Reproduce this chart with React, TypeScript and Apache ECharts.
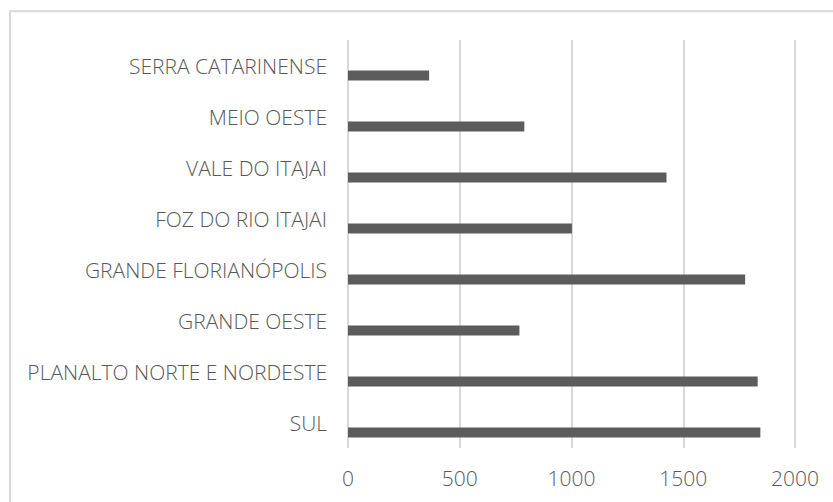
import React, { useEffect, useRef } from "react";
import * as echarts from "echarts";

const categories = [
  "SUL",
  "PLANALTO NORTE E NORDESTE",
  "GRANDE OESTE",
  "GRANDE FLORIANÓPOLIS",
  "FOZ DO RIO ITAJAI",
  "VALE DO ITAJAI",
  "MEIO OESTE",
  "SERRA CATARINENSE",
];
const values = [1845, 1833, 767, 1777, 1002, 1425, 789, 363];
const emptyValues = categories.map(() => null);
const xMin = 0;
const xMax = 2000;
const xInterval = 500;

export default function App() {
  const ref = useRef<HTMLDivElement>(null);
  useEffect(() => {
    if (!ref.current) return;
    const chart = echarts.init(ref.current, undefined, { renderer: "svg" });
    const font = "Open Sans";
    chart.setOption({
      animation: false,
      backgroundColor: "#ffffff",
      grid: { left: 348, right: 38, top: 40, bottom: 54 },
      xAxis: {
        type: "value",
        min: xMin,
        max: xMax,
        interval: xInterval,
        axisLine: { show: false },
        axisTick: { show: false },
        axisLabel: {
          fontSize: 21,
          color: "#595959",
          fontFamily: font,
          fontWeight: 300,
          margin: 19,
          formatter: (v: number) => String(v),
        },
        splitLine: { show: true, lineStyle: { color: "#d9d9d9", width: 2 } },
      },
      yAxis: {
        type: "category",
        data: categories,
        axisLine: { show: false },
        axisTick: { show: false },
        axisLabel: { fontSize: 21, color: "#595959", fontFamily: font, fontWeight: 300, margin: 21 },
        splitLine: { show: false },
      },
      series: [
        {
          type: "bar",
          name: "empty",
          data: emptyValues,
          barWidth: 10,
          barGap: "100%",
          itemStyle: { color: "#595959" },
        },
        {
          type: "bar",
          name: "values",
          data: values,
          barWidth: 10,
          barGap: "100%",
          itemStyle: { color: "#5c5c5c" },
        },
      ],
      graphic: [
        {
          type: "rect",
          shape: { x: 10, y: 11.2, width: 900, height: 600 },
          style: { fill: "none", stroke: "#d9d9d9", lineWidth: 2 },
          silent: true,
        },
      ],
    });
    return () => chart.dispose();
  }, []);
  return (
    <div
      ref={ref}
      style={{ position: "absolute", left: 0, top: 0, width: 833, height: 502 }}
    />
  );
}
